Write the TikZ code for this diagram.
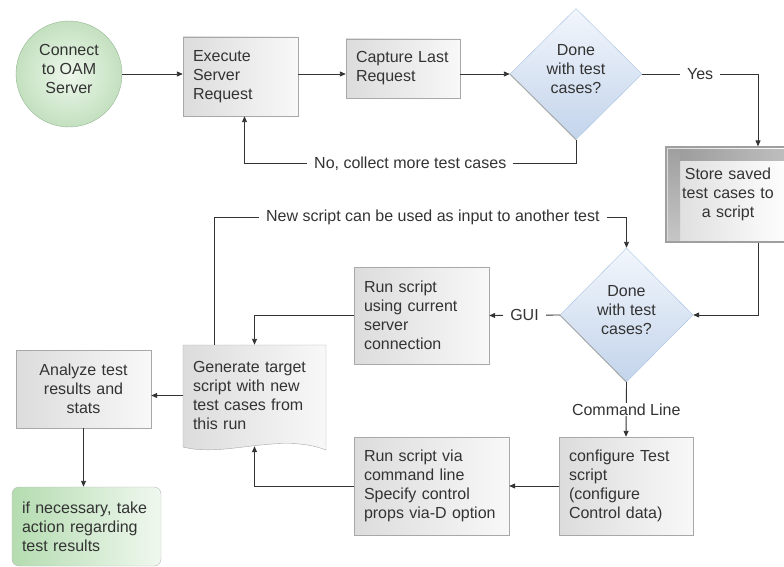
\documentclass[tikz,border=0pt]{standalone}
\usepackage{fontspec}
\setmainfont{Liberation Sans}
\usepackage{xcolor}
\usepackage{tikz}
\usetikzlibrary{arrows.meta, shapes.geometric, shadows}

\definecolor{inkgray}{HTML}{333333}
\definecolor{boxedge}{HTML}{A8A8A8}
\definecolor{boxdark}{HTML}{DCDCDC}
\definecolor{boxlight}{HTML}{F8F8F8}
\definecolor{circin}{HTML}{EEF8EC}
\definecolor{circout}{HTML}{C3E0BF}
\definecolor{circedge}{HTML}{96B694}
\definecolor{diatop}{HTML}{F2F6FC}
\definecolor{diabot}{HTML}{C3D4EB}
\definecolor{diaedge}{HTML}{A9C3E3}
\definecolor{actdark}{HTML}{B4DCB0}
\definecolor{actlight}{HTML}{F0F8EF}

\begin{document}
\begin{tikzpicture}[x=1pt, y=1pt,
  txt/.style={font=\fontsize{16}{19}\selectfont, text=inkgray},
  procbox/.style={txt, rectangle, draw=boxedge, left color=boxdark, right color=boxlight,
    inner xsep=10pt, inner ysep=0pt, align=left,
    drop shadow={shadow xshift=1pt, shadow yshift=-1pt, fill=black!60, opacity=0.6}},
  startnode/.style={txt, circle, draw=circedge, inner color=circin, outer color=circout,
    minimum size=106pt, inner sep=0pt, align=center, text depth=10pt},
  decision/.style={txt, diamond, draw=diaedge, top color=diatop, bottom color=diabot,
    aspect=1, inner sep=0pt, align=center, text depth=11pt},
  storebox/.style={txt, rectangle, draw=gray!75, line width=1.2pt, left color=boxdark,
    right color=white, inner xsep=10pt, inner ysep=0pt, align=center,
    path picture={
      \shade[left color=gray!80, right color=gray!50]
        ([shift={(2pt,-2pt)}]path picture bounding box.north west) rectangle
        ([shift={(0pt,-13pt)}]path picture bounding box.north east);
      \shade[top color=gray!75, bottom color=gray!45]
        ([shift={(2pt,-2pt)}]path picture bounding box.north west) rectangle
        ([shift={(14pt,2pt)}]path picture bounding box.south west);}},
  actbox/.style={txt, rectangle, rounded corners=7pt, draw=gray!55, left color=actdark,
    right color=actlight, inner xsep=10pt, inner ysep=0pt, align=left},
  arr/.style={draw=inkgray, line width=0.9pt, -{Triangle[length=6pt, width=5pt]}},
  edgelbl/.style={txt, fill=white, inner xsep=7pt, inner ysep=1pt}]
\useasboundingbox (0,0) rectangle (784,-567);
%%── Top row ──────────────────────────────────────────────
\node[startnode] (conn) at (69,-74) {Connect\\to OAM\\Server};
\node[procbox, text width=95pt, minimum height=79pt] (exec) at (240.5,-76.5)
  {Execute\\Server\\Request};
\node[procbox, text width=94pt, minimum height=59pt] (capture) at (403,-68.5)
  {Capture Last\\Request};
\node[decision, minimum width=132pt, minimum height=131pt] (d1) at (576,-74)
  {Done\\with test\\cases?};
\draw[gray!70, line width=0.9pt] (d1.west) -- (d1.south);
%%── Store step on the right ──────────────────────────────
\node[storebox, text width=104pt, minimum height=95pt] (store) at (728,-194.5)
  {Store saved\\test cases to\\a script};
\coordinate (storein) at ([xshift=30pt]store.north);
\coordinate (storeout) at ([xshift=30pt]store.south);
%%── Middle row ───────────────────────────────────────────
\node[decision, minimum width=133pt, minimum height=134pt] (d2) at (626.5,-315)
  {Done\\with test\\cases?};
\draw[gray!70, line width=0.9pt] (d2.west) -- (d2.south);
\node[procbox, text width=115pt, minimum height=97pt] (rungui) at (421.5,-315.5)
  {Run script\\using current\\server\\connection};
%% generated script: document shape drawn by hand, text node on top
\shade[left color=boxdark, right color=boxlight, draw=boxedge]
  (183,-345) -- (326,-345) -- (326,-450)
  .. controls (280,-432) and (225,-458) .. (183,-447) -- cycle;
\node[txt, rectangle, inner xsep=10pt, inner ysep=0pt, align=left, text width=123pt,
  minimum height=101pt] (gen) at (254.5,-395.5)
  {Generate target\\script with new\\test cases from\\this run};
\node[procbox, text width=115pt, minimum height=78pt, align=center] (analyze)
  at (83.5,-389) {Analyze test\\results and\\stats};
%%── Bottom row ───────────────────────────────────────────
\node[procbox, text width=114pt, minimum height=98pt] (conf) at (626,-486)
  {configure Test\\script\\(configure\\Control data)};
\node[procbox, text width=135pt, minimum height=98pt] (runcli) at (431.5,-486)
  {Run script via\\command line\\Specify control\\props via-D option};
\node[actbox, text width=129pt, minimum height=79pt] (act) at (86.5,-526.5)
  {if necessary, take\\action regarding\\test results};
%%── Connectors ───────────────────────────────────────────
\draw[arr] (conn.east) -- (conn.east -| exec.west);
\draw[arr] (exec.east |- d1.west) -- (capture.west |- d1.west);
\draw[arr] (capture.east |- d1.west) -- (d1.west);
\draw[arr] (d1.east) -- node[edgelbl]{Yes} (d1.east -| storein) -- (storein);
\draw[arr] (d1.south) -- ++(0,-24)
  -| node[edgelbl, pos=0.25]{No, collect more test cases} ([xshift=4pt]exec.south);
\draw[arr] (storeout) |- (d2.east);
\draw[arr] (d2.west) -- node[edgelbl]{GUI} (rungui.east);
\draw[arr] (rungui.west) -| (gen.north);
\draw[arr] ([xshift=-40pt]gen.north) -- ++(0,127)
  -| node[edgelbl, pos=0.265]{New script can be used as input to another test} (d2.north);
\draw[arr] (d2.south) -- node[edgelbl]{Command Line} (conf.north);
\draw[arr] (conf.west) -- (runcli.east);
\draw[arr] (runcli.west) -| (gen.south);
\draw[arr] (gen.west) -- (gen.west -| analyze.east);
\draw[arr] (analyze.south) -- (analyze.south |- act.north);
\end{tikzpicture}
\end{document}
